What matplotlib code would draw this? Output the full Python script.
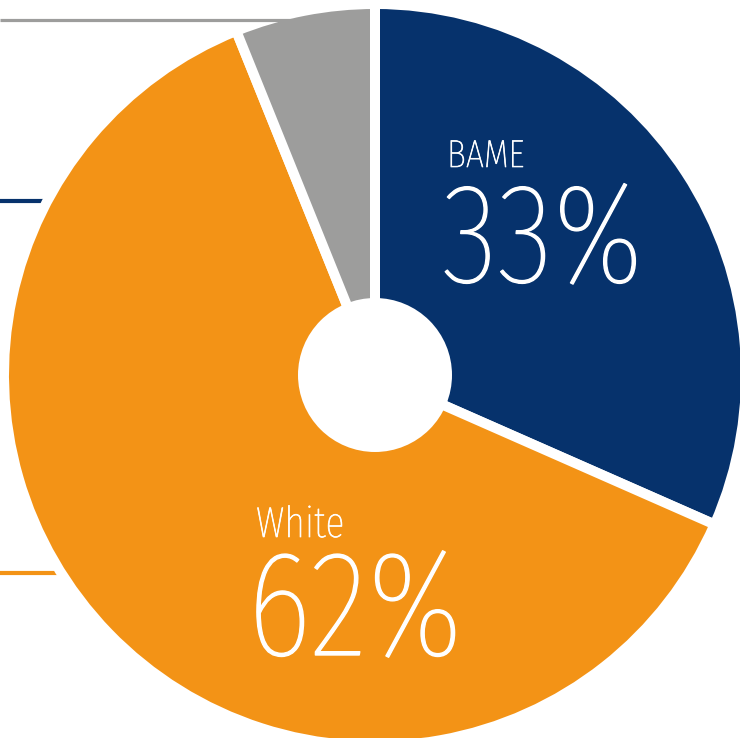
import matplotlib
matplotlib.use("Agg")
import matplotlib.pyplot as plt
from matplotlib.patches import Circle
import matplotlib.patheffects as pe

# data
categories = ["BAME", "White", "Other"]
shares = [31.6, 62.3, 6.1]
label_texts = ["33%", "62%"]
colors = ["#06326c", "#f39316", "#9d9d9c"]

W, H = 740, 738
fig = plt.figure(figsize=(W / 100, H / 100), dpi=100)
ax = fig.add_axes([0, 0, 1, 1])

cx, cy = 375, H - 375
R = 371

# leader lines
ax.plot([0, 292], [H - 20, H - 20], color=colors[2], lw=2.3, zorder=7, solid_capstyle="butt")
ax.plot([0, 80], [H - 201, H - 201], color=colors[0], lw=3.0, zorder=0, solid_capstyle="butt")
ax.plot([0, 90], [H - 573, H - 573], color=colors[1], lw=3.0, zorder=0, solid_capstyle="butt")

ax.pie(shares, colors=colors, startangle=90, counterclock=False,
       center=(cx, cy), radius=R, frame=True,
       wedgeprops=dict(edgecolor="white", linewidth=7.2))
ax.set_xlim(0, W)
ax.set_ylim(0, H)
ax.set_aspect("equal")
ax.axis("off")
ax.add_patch(Circle((cx, cy), 77, facecolor="white", edgecolor="none", zorder=5))

fam = ["Fira Sans Extra Condensed", "Roboto Condensed", "DejaVu Sans"]
kw = dict(color="white", family=fam, weight="light", ha="left", va="baseline", zorder=6)
thick = [pe.withStroke(linewidth=1.0, foreground="white")]
thin = [pe.withStroke(linewidth=0.5, foreground="white")]
ax.text(447, H - 167, categories[0], fontsize=28, path_effects=thin, **kw)
ax.text(442, H - 282, label_texts[0], fontsize=102, path_effects=thick, **kw)
ax.text(256, H - 537, categories[1], fontsize=31, path_effects=thin, **kw)
ax.text(247, H - 655, label_texts[1], fontsize=108, path_effects=thick, **kw)

fig.savefig("out.png", dpi=100)
